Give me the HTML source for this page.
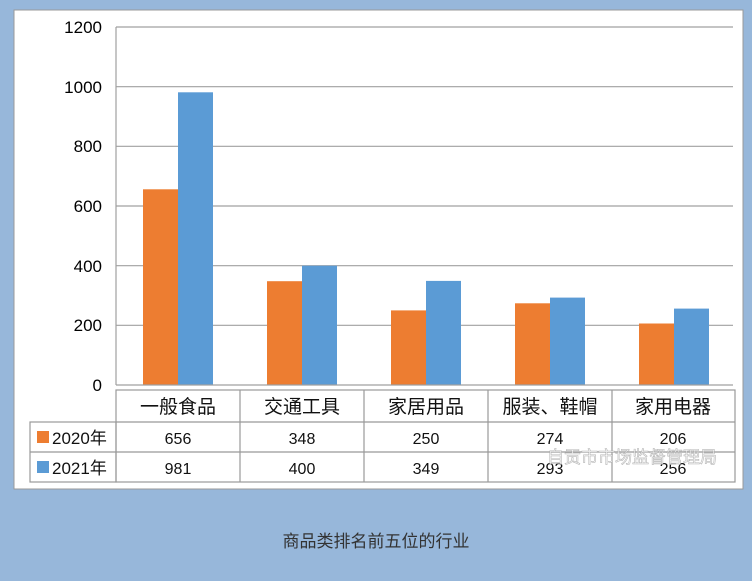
<!DOCTYPE html>
<html><head><meta charset="utf-8"><style>
body{margin:0;width:752px;height:576px;background:#97b7da;overflow:hidden;font-family:"Liberation Sans","Noto Sans CJK SC",sans-serif}
</style></head><body>
<svg width="752" height="576" xmlns="http://www.w3.org/2000/svg" font-family="Liberation Sans, Noto Sans CJK SC, sans-serif">
<rect x="14" y="10" width="729" height="479" fill="#fff" stroke="#999"/>
<g stroke="#a0a0a0" stroke-width="1.2">
<line x1="116" y1="27" x2="733" y2="27"/><line x1="116" y1="86.7" x2="733" y2="86.7"/>
<line x1="116" y1="146.3" x2="733" y2="146.3"/><line x1="116" y1="206" x2="733" y2="206"/>
<line x1="116" y1="265.7" x2="733" y2="265.7"/><line x1="116" y1="325.3" x2="733" y2="325.3"/>
<line x1="116" y1="27" x2="116" y2="385"/>
</g>
<g font-size="17" fill="#000" text-anchor="end">
<text x="102" y="33">1200</text><text x="102" y="93">1000</text><text x="102" y="152">800</text>
<text x="102" y="212">600</text><text x="102" y="272">400</text><text x="102" y="331">200</text><text x="102" y="391">0</text>
</g>
<g>
<rect x="143" y="189.3" width="35" height="195.7" fill="#ed7d31"/><rect x="178" y="92.3" width="35" height="292.7" fill="#5b9bd5"/>
<rect x="267" y="281.2" width="35" height="103.8" fill="#ed7d31"/><rect x="302" y="265.7" width="35" height="119.3" fill="#5b9bd5"/>
<rect x="391" y="310.4" width="35" height="74.6" fill="#ed7d31"/><rect x="426" y="280.9" width="35" height="104.1" fill="#5b9bd5"/>
<rect x="515" y="303.3" width="35" height="81.7" fill="#ed7d31"/><rect x="550" y="297.6" width="35" height="87.4" fill="#5b9bd5"/>
<rect x="639" y="323.5" width="35" height="61.5" fill="#ed7d31"/><rect x="674" y="308.6" width="35" height="76.4" fill="#5b9bd5"/>
</g>
<line x1="116" y1="385" x2="733" y2="385" stroke="#a0a0a0" stroke-width="1.2"/>
<g stroke="#999" stroke-width="1.2" fill="none">
<rect x="116" y="390" width="619" height="92"/>
<rect x="30" y="422" width="86" height="60"/>
<line x1="30" y1="452" x2="735" y2="452"/><line x1="116" y1="422" x2="735" y2="422"/>
<line x1="240" y1="390" x2="240" y2="482"/><line x1="364" y1="390" x2="364" y2="482"/>
<line x1="488" y1="390" x2="488" y2="482"/><line x1="612" y1="390" x2="612" y2="482"/>
</g>
<g font-size="19" text-anchor="middle" fill="#111">
<text x="178" y="413">一般食品</text><text x="302" y="413">交通工具</text><text x="426" y="413">家居用品</text><text x="550" y="413">服装、鞋帽</text><text x="673" y="413">家用电器</text>
</g>
<g font-size="16" text-anchor="middle" fill="#111">
<text x="178" y="444">656</text><text x="302" y="444">348</text><text x="426" y="444">250</text><text x="550" y="444">274</text><text x="673" y="444">206</text>
<text x="178" y="474">981</text><text x="302" y="474">400</text><text x="426" y="474">349</text><text x="550" y="474">293</text><text x="673" y="474">256</text>
</g>
<rect x="37" y="431" width="12" height="12" fill="#ed7d31"/><rect x="37" y="461" width="12" height="12" fill="#5b9bd5"/>
<text x="52" y="444" font-size="17" fill="#111">2020年</text><text x="52" y="474" font-size="17" fill="#111">2021年</text>
<text x="547" y="463" font-size="17" fill="#fff" stroke="#aaa" stroke-width="0.6" opacity="0.85">自贡市市场监督管理局</text>
<text x="376" y="547" font-size="17" fill="#333" text-anchor="middle">商品类排名前五位的行业</text>
</svg>
</body></html>
